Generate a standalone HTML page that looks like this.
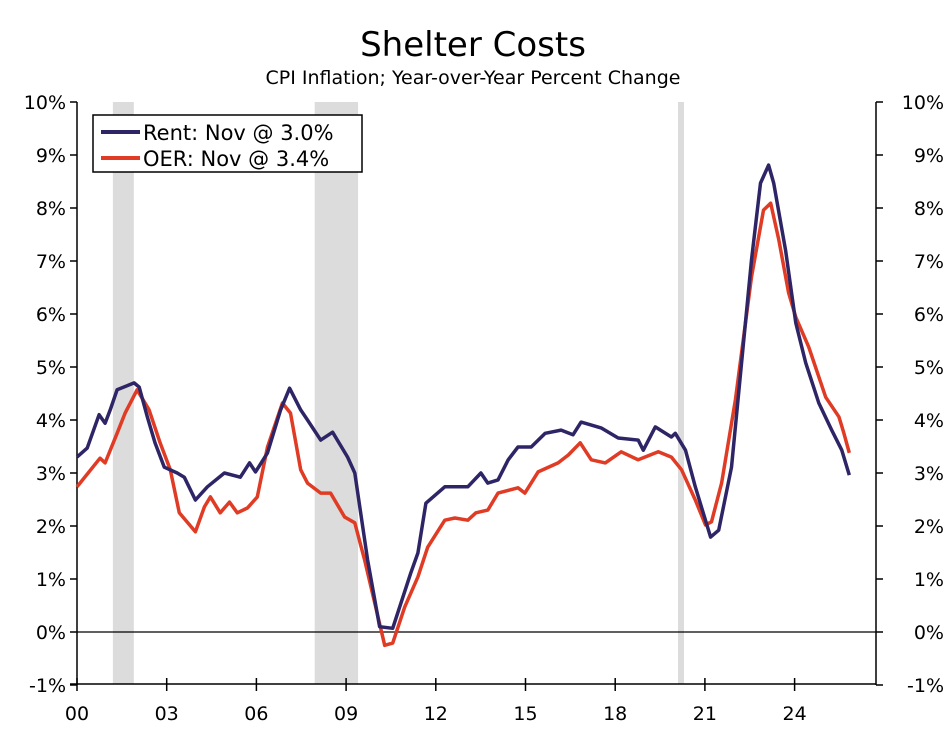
<!DOCTYPE html>
<html><head><meta charset="utf-8"><style>
body{margin:0;background:#fff;}
svg text{font-family:"DejaVu Sans","Liberation Sans",sans-serif;fill:#000;}
</style></head><body>
<svg id="chart" width="947" height="727" viewBox="0 0 947 727" xmlns="http://www.w3.org/2000/svg">
<text x="473" y="56" font-size="34" text-anchor="middle">Shelter Costs</text>
<text x="473" y="84" font-size="19" text-anchor="middle">CPI Inflation; Year-over-Year Percent Change</text>
<g id="rec"></g><g id="grid"></g><g id="series"></g>
<g>
<rect x="93" y="115" width="269" height="57" fill="#fff" stroke="#000" stroke-width="1.5"/>
<line x1="101" y1="132" x2="140" y2="132" stroke="#2e2566" stroke-width="4"/>
<text x="143" y="140" font-size="21">Rent: Nov @ 3.0%</text>
<line x1="101" y1="158" x2="140" y2="158" stroke="#e03b24" stroke-width="4"/>
<text x="143" y="166" font-size="21">OER: Nov @ 3.4%</text>
</g>
</svg>
<script>
const years=[0.0,0.34,0.74,0.94,1.11,1.34,1.91,2.08,2.35,2.61,2.92,3.35,3.59,3.96,4.36,4.93,5.46,5.77,5.97,6.37,6.81,7.11,7.48,7.71,8.15,8.55,9.05,9.29,9.72,10.12,10.56,11.16,11.40,11.67,12.30,13.07,13.51,13.74,14.08,14.42,14.75,15.19,15.66,16.19,16.59,16.86,17.53,18.10,18.77,18.94,19.34,19.88,20.01,20.35,20.68,21.19,21.46,21.89,22.56,22.86,23.13,23.30,23.70,24.04,24.37,24.81,25.24,25.58,25.83];
const rent=[3.3,3.47,4.1,3.94,4.19,4.57,4.7,4.62,4.06,3.57,3.11,3.0,2.92,2.49,2.74,3.0,2.92,3.19,3.02,3.38,4.19,4.6,4.19,4.0,3.62,3.77,3.3,3.0,1.36,0.1,0.07,1.11,1.49,2.43,2.74,2.74,3.0,2.81,2.87,3.25,3.49,3.49,3.75,3.81,3.72,3.96,3.85,3.66,3.62,3.43,3.87,3.68,3.75,3.43,2.74,1.79,1.92,3.11,7.02,8.47,8.81,8.47,7.2,5.83,5.08,4.32,3.81,3.43,2.96];
const oerYears=[0.0,0.10,0.77,0.94,1.34,1.61,2.01,2.41,2.78,3.12,3.42,3.96,4.26,4.46,4.79,5.10,5.36,5.70,6.03,6.37,6.87,7.14,7.48,7.71,8.15,8.48,8.95,9.29,9.62,10.29,10.56,10.96,11.40,11.73,12.30,12.64,13.07,13.34,13.74,14.08,14.75,14.98,15.42,16.09,16.43,16.83,17.20,17.67,18.20,18.77,19.44,19.88,20.22,20.68,21.02,21.22,21.56,22.02,22.56,22.96,23.20,23.47,23.80,24.04,24.47,25.04,25.48,25.65,25.83];
const oer=[2.74,2.81,3.28,3.19,3.75,4.13,4.57,4.19,3.57,3.06,2.25,1.89,2.36,2.55,2.25,2.45,2.25,2.34,2.55,3.49,4.32,4.13,3.06,2.81,2.62,2.62,2.17,2.06,1.36,-0.25,-0.21,0.47,1.04,1.6,2.11,2.15,2.11,2.25,2.30,2.62,2.72,2.62,3.02,3.19,3.34,3.57,3.25,3.19,3.40,3.25,3.40,3.30,3.06,2.49,2.02,2.08,2.81,4.38,6.70,7.96,8.09,7.40,6.40,5.94,5.38,4.43,4.06,3.75,3.38];
const recessions=[[1.2,1.9],[7.95,9.4],[20.1,20.3]];
const yTicks=[-1,0,1,2,3,4,5,6,7,8,9,10];
const xLabels=["00","03","06","09","12","15","18","21","24"];
const NS="http://www.w3.org/2000/svg";
const X=t=>77+t*29.9, Y=v=>632-v*53;
function mk(p,tag,a){const e=document.createElementNS(NS,tag);for(const k in a)e.setAttribute(k,a[k]);p.appendChild(e);return e;}
const rec=document.getElementById('rec'),grid=document.getElementById('grid'),ser=document.getElementById('series');
recessions.forEach(r=>{const e=mk(rec,'rect',{x:X(r[0]),y:102,width:X(r[1])-X(r[0]),height:582,fill:'#dcdcdc'});

});
mk(grid,'line',{x1:77,y1:102,x2:77,y2:685,stroke:'#000','stroke-width':1.5});
mk(grid,'line',{x1:876,y1:102,x2:876,y2:685,stroke:'#000','stroke-width':1.5});
mk(grid,'line',{x1:70,y1:684,x2:876,y2:684,stroke:'#000','stroke-width':1.5});
mk(grid,'line',{x1:77,y1:Y(0),x2:876,y2:Y(0),stroke:'#000','stroke-width':1.2});
yTicks.forEach(v=>{
mk(grid,'line',{x1:70,y1:Y(v),x2:77,y2:Y(v),stroke:'#000','stroke-width':1.5});
mk(grid,'line',{x1:876,y1:Y(v),x2:883,y2:Y(v),stroke:'#000','stroke-width':1.5});
const a=mk(grid,'text',{x:66,y:Y(v)+7,'font-size':19,'text-anchor':'end'});a.textContent=v+'%';


const b=mk(grid,'text',{x:944,y:Y(v)+7,'font-size':19,'text-anchor':'end'});b.textContent=v+'%';

});
xLabels.forEach((l,i)=>{const x=X(i*3);
mk(grid,'line',{x1:x,y1:678,x2:x,y2:691,stroke:'#000','stroke-width':1.5});
const t=mk(grid,'text',{x:x,y:720,'font-size':19,'text-anchor':'middle'});t.textContent=l;

});
function line(xs,vs,c,n){const d=xs.map((t,i)=>(i?'L':'M')+X(t).toFixed(1)+' '+Y(vs[i]).toFixed(1)).join('');
const p=mk(ser,'path',{d:d,fill:'none',stroke:c,'stroke-width':3.5,'stroke-linejoin':'round'});

}
line(oerYears,oer,'#e03b24','oer-line');
line(years,rent,'#2e2566','rent-line');
</script>
</body></html>
